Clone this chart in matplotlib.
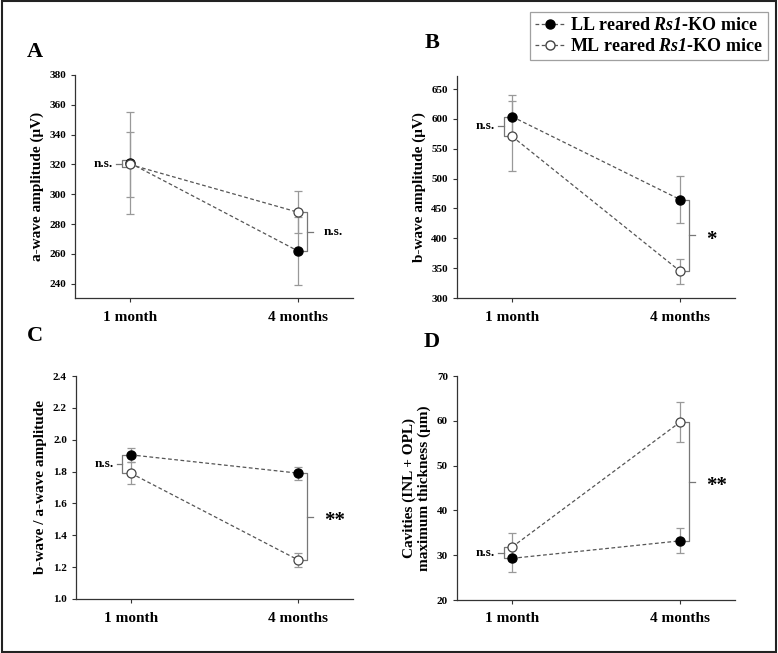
import matplotlib
matplotlib.use("Agg")
import matplotlib.pyplot as plt
from matplotlib.lines import Line2D
from matplotlib.patches import Rectangle

plt.rcParams['font.family'] = 'Liberation Serif'
plt.rcParams['font.weight'] = 'bold'
plt.rcParams['axes.labelweight'] = 'bold'
plt.rcParams['mathtext.fontset'] = 'custom'
plt.rcParams['mathtext.it'] = 'Liberation Serif:italic:bold'
plt.rcParams['mathtext.rm'] = 'Liberation Serif:italic:bold'

months = ['1 month', '4 months']
xpos = [0, 1]

# panel A: a-wave amplitude
a_ll = [321, 262]
a_ll_err = [34, 23]
a_ml = [320, 288]
a_ml_err = [21.5, 14]

# panel B: b-wave amplitude
b_ll = [604, 465]
b_ll_err = [36, 40]
b_ml = [571, 345]
b_ml_err = [59, 21]

# panel C: b/a ratio
c_ll = [1.905, 1.79]
c_ll_err = [0.045, 0.04]
c_ml = [1.79, 1.245]
c_ml_err = [0.07, 0.045]

# panel D: cavities thickness
d_ll = [29.3, 33.2]
d_ll_err = [3.1, 2.8]
d_ml = [31.8, 59.7]
d_ml_err = [3.2, 4.4]

# significance: (month index, low, high, label)
a_sig = [(0, 320, 321, 'n.s.'), (1, 262, 288, 'n.s.')]
b_sig = [(0, 571, 604, 'n.s.'), (1, 345, 465, '*')]
c_sig = [(0, 1.79, 1.905, 'n.s.'), (1, 1.245, 1.79, '**')]
d_sig = [(0, 29.3, 31.8, 'n.s.'), (1, 33.2, 59.7, '**')]

line_col = '#555555'
err_col = '#999999'
brk_col = '#777777'

fig = plt.figure(figsize=(7.78, 6.53), dpi=100)
W, H = 778.0, 653.0

def box(l, t, r, b):
    return [l / W, 1 - b / H, (r - l) / W, (b - t) / H]

def bracket(ax, i, lo, hi, label, ylim):
    rng = ylim[1] - ylim[0]
    if hi - lo < 0.03 * rng:
        mid = (hi + lo) / 2
        lo, hi = mid - 0.015 * rng, mid + 0.015 * rng
    mid = (hi + lo) / 2
    if i == 0:
        xb = i - 0.05
        ax.plot([xb + 0.025, xb, xb, xb + 0.025], [lo, lo, hi, hi], color=brk_col, lw=0.9, clip_on=False)
        ax.plot([xb, xb - 0.035], [mid, mid], color=brk_col, lw=0.9, clip_on=False)
        ax.text(xb - 0.05, mid, label, ha='right', va='center', fontsize=9.5, fontweight='bold')
    else:
        xb = i + 0.055
        ax.plot([xb - 0.025, xb, xb, xb - 0.025], [lo, lo, hi, hi], color=brk_col, lw=0.9, clip_on=False)
        ax.plot([xb, xb + 0.035], [mid, mid], color=brk_col, lw=0.9, clip_on=False)
        fs = 9.5 if label == 'n.s.' else 15
        yoff = 0 if label == 'n.s.' else -0.02 * rng
        ax.text(xb + 0.1, mid + yoff, label, ha='left', va='center', fontsize=fs, fontweight='bold')

def panel(rect, ll, ll_err, ml, ml_err, sig, ylim, yticks, ylabel, letter, lpos, fmt):
    ax = fig.add_axes(box(*rect))
    ax.errorbar(xpos, ll, yerr=ll_err, fmt='none', ecolor=err_col, elinewidth=0.9, capsize=3, capthick=0.9, zorder=1)
    ax.errorbar(xpos, ml, yerr=ml_err, fmt='none', ecolor=err_col, elinewidth=0.9, capsize=3, capthick=0.9, zorder=1)
    ax.plot(xpos, ll, color=line_col, lw=0.9, ls=(0, (3, 2)), zorder=2)
    ax.plot(xpos, ml, color=line_col, lw=0.9, ls=(0, (3, 2)), zorder=2)
    ax.plot(xpos, ll, 'o', ms=6.5, mfc='black', mec='black', zorder=3)
    ax.plot(xpos, ml, 'o', ms=6.5, mfc='white', mec='#444444', mew=0.9, zorder=3)
    ax.set_xlim(-0.327, 1.327)
    ax.set_ylim(*ylim)
    ax.set_yticks(yticks)
    ax.set_yticklabels([fmt % v for v in yticks], fontsize=8, fontweight='bold')
    ax.set_xticks(xpos)
    ax.set_xticklabels(months, fontsize=11, fontweight='bold')
    ax.tick_params(axis='both', direction='out', length=3, width=0.8, color='#333333')
    ax.tick_params(axis='x', pad=6)
    for s in ['top', 'right']:
        ax.spines[s].set_visible(False)
    for s in ['left', 'bottom']:
        ax.spines[s].set_linewidth(0.9)
        ax.spines[s].set_color('#333333')
    ax.set_ylabel(ylabel, fontsize=11, fontweight='bold')
    for i, lo, hi, lab in sig:
        bracket(ax, i, lo, hi, lab, ylim)
    fig.text(lpos[0] / W, 1 - lpos[1] / H, letter, fontsize=16, ha='left', va='center', fontweight='bold')
    return ax

panel((75, 75, 353, 298), a_ll, a_ll_err, a_ml, a_ml_err, a_sig, (230.5, 380),
      list(range(240, 381, 20)), 'a-wave amplitude (μV)', 'A', (27, 52), '%d')
panel((457, 76, 735, 298), b_ll, b_ll_err, b_ml, b_ml_err, b_sig, (300, 672),
      list(range(300, 651, 50)), 'b-wave amplitude (μV)', 'B', (425, 43), '%d')
panel((76, 376, 353, 599), c_ll, c_ll_err, c_ml, c_ml_err, c_sig, (1.0, 2.4),
      [1.0, 1.2, 1.4, 1.6, 1.8, 2.0, 2.2, 2.4], 'b-wave / a-wave amplitude', 'C', (27, 336), '%.1f')
panel((457, 376, 735, 600), d_ll, d_ll_err, d_ml, d_ml_err, d_sig, (20, 70),
      list(range(20, 71, 10)), 'Cavities (INL + OPL)\nmaximum thickness (μm)', 'D', (424, 342), '%d')

handles = [
    Line2D([], [], color=line_col, lw=0.9, ls=(0, (3, 2)), marker='o', ms=6.5, mfc='black', mec='black'),
    Line2D([], [], color=line_col, lw=0.9, ls=(0, (3, 2)), marker='o', ms=6.5, mfc='white', mec='#444444'),
]
labels = [r'LL reared $\mathrm{Rs1}$-KO mice', r'ML reared $\mathrm{Rs1}$-KO mice']
leg = fig.legend(handles, labels, loc='upper right', bbox_to_anchor=(768 / W, 1 - 12 / H),
                 frameon=True, fancybox=False, edgecolor='#888888',
                 handlelength=1.6, handletextpad=0.3, borderpad=0.3, labelspacing=0.2,
                 borderaxespad=0, prop={'weight': 'bold', 'size': 13})
leg.get_frame().set_linewidth(0.9)

fig.add_artist(Rectangle((0.002, 0.002), 0.996, 0.996, transform=fig.transFigure,
                         fill=False, lw=1.5, ec='#222222'))

fig.savefig('out.png', dpi=100)
